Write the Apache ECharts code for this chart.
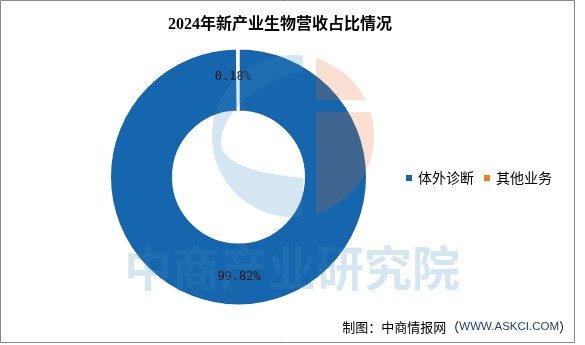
<!DOCTYPE html>
<html>
<head>
<meta charset="utf-8">
<style>
  html, body { margin: 0; padding: 0; background: #fff; }
  #chart { width: 585px; height: 345px; }
</style>
<script src="https://cdn.jsdelivr.net/npm/echarts@6/dist/echarts.min.js"></script>
</head>
<body>
<div id="chart"></div>
<script>
// Revenue split of 新产业生物 in 2024 (share of total, %)
const categories = ['体外诊断', '其他业务'];
const shares = [99.82, 0.18];
const sliceColors = ['#1666AE', '#F47D20'];

const chart = echarts.init(document.getElementById('chart'), null, { renderer: 'canvas' });

// --- faint brand mark laid over the plot, built as polygons ---
const markBlue = 'rgba(60,140,190,0.22)';
const markOrange = 'rgba(230,100,30,0.2)';
const LC = [293, 136], LR = 81;

function arcPts(cx, cy, r, a0, a1, n) {
  const pts = [];
  for (let i = 0; i <= n; i++) {
    const a = a0 + (a1 - a0) * i / n;
    pts.push([cx + r * Math.cos(a), cy + r * Math.sin(a)]);
  }
  return pts;
}
function bezPts(p0, p1, p2, p3, n) {
  const pts = [];
  for (let i = 1; i <= n; i++) {
    const t = i / n, u = 1 - t;
    pts.push([
      u * u * u * p0[0] + 3 * u * u * t * p1[0] + 3 * u * t * t * p2[0] + t * t * t * p3[0],
      u * u * u * p0[1] + 3 * u * u * t * p1[1] + 3 * u * t * t * p2[1] + t * t * t * p3[1]
    ]);
  }
  return pts;
}
function angAt(x, upper) {
  const a = Math.acos((x - LC[0]) / LR);
  return upper ? -a : a;
}

// crescent: left part of the circle minus an offset inner curve
const crescent = []
  .concat(arcPts(LC[0], LC[1], LR, angAt(303, true), -2 * Math.PI + angAt(303, false), 80))
  .concat([[303, 178]])
  .concat(bezPts([303, 178], [255, 174], [218, 162], [221, 140], 30))
  .concat(bezPts([221, 140], [224, 110], [262, 78], [303, 72], 30));

const orangeTop = arcPts(LC[0], LC[1], LR, angAt(316, true), Math.asin((100 - LC[1]) / LR), 40)
  .concat([[316, 100]]);
const orangeBottom = [[316, 112]]
  .concat(arcPts(LC[0], LC[1], LR, Math.asin((112 - LC[1]) / LR), angAt(316, false), 40));

const option = {
  animation: false,
  backgroundColor: '#fff',
  title: {
    text: '2024年新产业生物营收占比情况',
    left: 280,
    top: 17,
    padding: 0,
    textAlign: 'center',
    textStyle: {
      fontFamily: "'Liberation Serif', 'Noto Sans CJK SC', serif",
      fontSize: 16,
      fontWeight: 'bold',
      color: '#000'
    }
  },
  legend: {
    orient: 'horizontal',
    left: 404,
    top: 171,
    padding: 0,
    itemWidth: 8,
    itemHeight: 8,
    itemGap: 8,
    icon: 'rect',
    data: categories,
    textStyle: {
      fontFamily: "'Noto Sans CJK SC', sans-serif",
      fontSize: 14,
      color: '#000'
    }
  },
  series: [{
    type: 'pie',
    center: [238.5, 177],
    radius: [65.5, 128.5],
    startAngle: 90,
    clockwise: true,
    avoidLabelOverlap: false,
    emphasis: { disabled: true },
    itemStyle: { borderColor: '#fff', borderWidth: 2 },
    label: {
      show: true,
      position: 'inside',
      formatter: '{c}%',
      fontFamily: "'DejaVu Sans Mono', monospace",
      fontSize: 12,
      color: '#111'
    },
    labelLine: { show: false },
    data: categories.map((name, i) => ({
      name: name,
      value: shares[i],
      itemStyle: { color: sliceColors[i] },
      label: i === 1 ? { offset: [-5, 0] } : {}
    }))
  }],
  graphic: [
    {
      type: 'polygon', z: 100, silent: true,
      shape: { points: crescent },
      style: { fill: markBlue }
    },
    {
      type: 'polygon', z: 100, silent: true,
      shape: { points: orangeTop },
      style: { fill: markOrange }
    },
    {
      type: 'polygon', z: 100, silent: true,
      shape: { points: orangeBottom },
      style: { fill: markOrange }
    },
    {
      type: 'text', z: 100, silent: true,
      x: 292, y: 268,
      style: {
        text: '中商产业研究院',
        fontFamily: "'Noto Sans CJK SC', sans-serif",
        fontSize: 48,
        fontWeight: 'bold',
        fill: markBlue,
        align: 'center',
        verticalAlign: 'middle'
      }
    },
    {
      type: 'text', z: 101,
      x: 572, y: 327,
      style: {
        text: '{a|制图：中商情报网（}{b|WWW.ASKCI.COM}{a|）}',
        align: 'right',
        verticalAlign: 'middle',
        rich: {
          a: { fontFamily: "'Noto Sans CJK SC', sans-serif", fontSize: 13, fill: '#000' },
          b: { fontFamily: "'Liberation Sans', sans-serif", fontSize: 11.5, fill: '#22406E' }
        }
      }
    },
    {
      type: 'rect', z: 102, silent: true,
      shape: { x: 0.5, y: 0.5, width: 574, height: 342 },
      style: { fill: 'none', stroke: '#8a8a8a', lineWidth: 1 }
    }
  ]
};

chart.setOption(option);
</script>
</body>
</html>
